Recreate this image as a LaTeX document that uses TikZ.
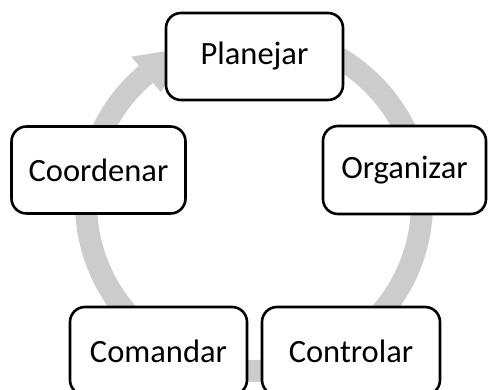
\documentclass[tikz,border=0pt]{standalone}
\usepackage{fontspec}
\setmainfont{Carlito}
\definecolor{ringgray}{RGB}{204,204,204}
\tikzset{
  stage/.style={draw=black, fill=white, line width=2.6pt, rounded corners=15pt,
    inner sep=0pt, font=\fontsize{32.5}{37}\selectfont, text=black},
  ring/.style={draw=ringgray, line width=22pt},
}
\begin{document}
\begin{tikzpicture}[x=1pt,y=1pt]
\useasboundingbox (0,0) rectangle (488,390);
\clip (0,0) rectangle (488,390);
\coordinate (c) at (254,187);
% circular arrow ring
\draw[ring] ([shift={(80:168)}]c) arc[start angle=80, end angle=-230, radius=168];
\fill[ringgray] ([shift={(130:145)}]c) -- ([shift={(130:191)}]c) -- ([shift={(112:168)}]c) -- cycle;
% stages
\node[stage, minimum width=177pt, minimum height=87pt] (plan) at (254.5,333.5) {Planejar};
\node[stage, minimum width=174pt, minimum height=87pt] (coord) at (98.5,220) {Coordenar};
\node[stage, minimum width=163pt, minimum height=88pt] (org) at (404.5,220) {Organizar};
\node[stage, minimum width=177pt, minimum height=88pt] (cmd) at (158.5,39) {Comandar};
\node[stage, minimum width=178pt, minimum height=88pt] (ctrl) at (351,39) {Controlar};
\end{tikzpicture}
\end{document}
